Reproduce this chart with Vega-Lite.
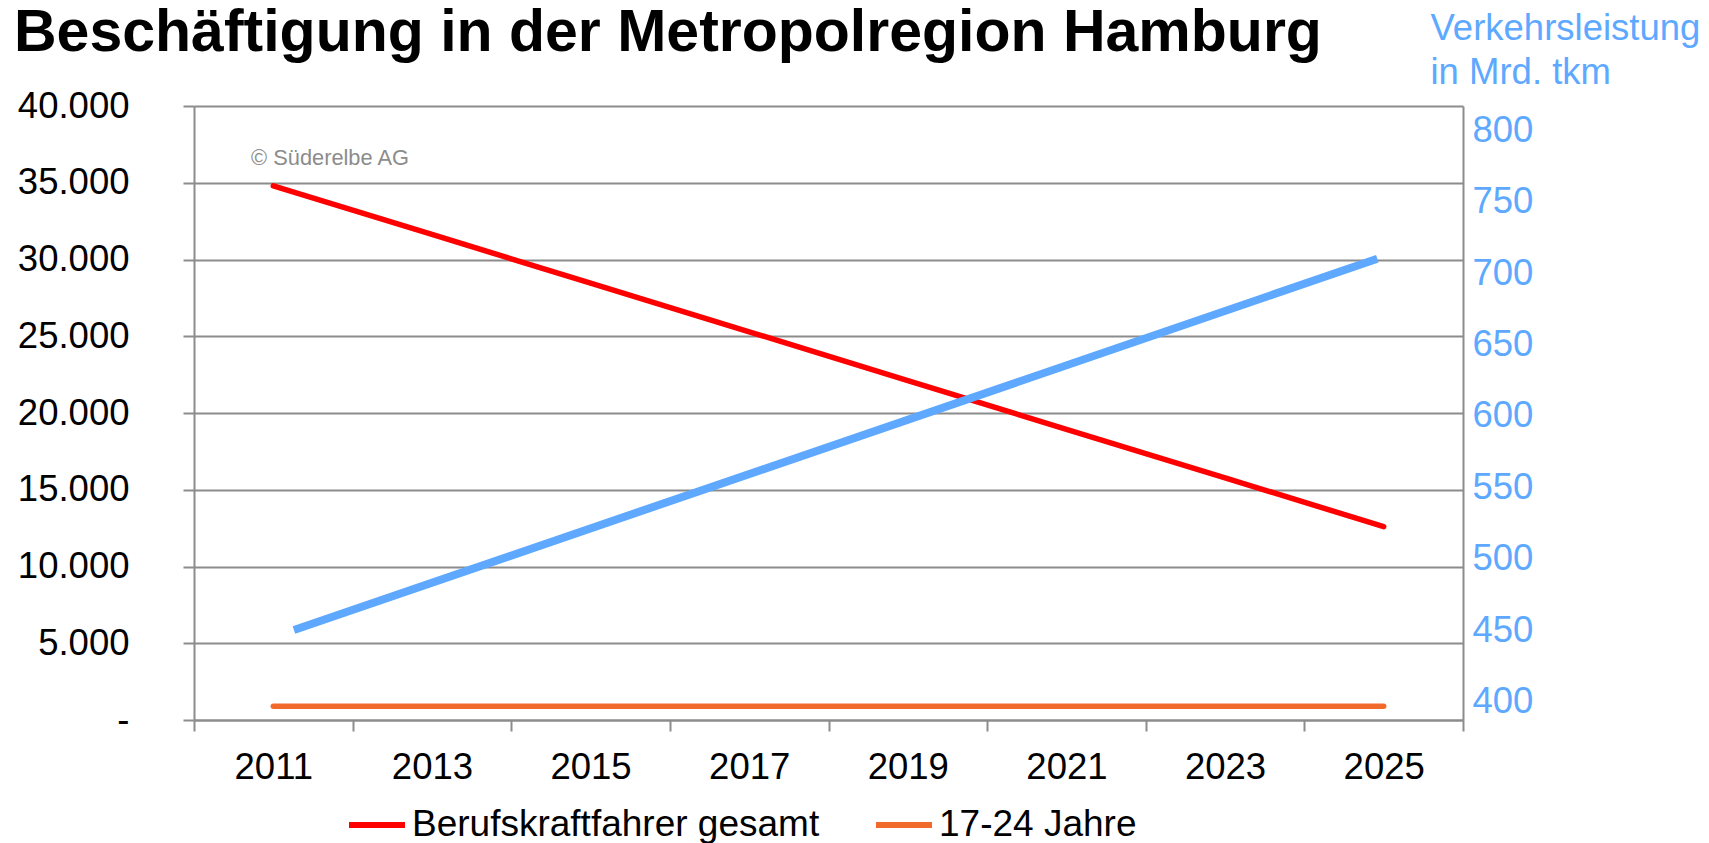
{
  "$schema": "https://vega.github.io/schema/vega-lite/v6.json",
  "width": 1269,
  "height": 614,
  "autosize": {"type": "none"},
  "padding": {"left": 194, "top": 106, "right": 246, "bottom": 123},
  "background": "white",
  "title": {
    "text": "Beschäftigung in der Metropolregion Hamburg",
    "anchor": "start",
    "frame": "group",
    "fontSize": 59,
    "fontWeight": "bold",
    "font": "Liberation Sans",
    "color": "#000000",
    "baseline": "alphabetic",
    "dx": -180,
    "dy": 100,
    "offset": 0
  },
  "datasets": {
    "beschaeftigung": [
      {"Jahr": 2011, "Reihe": "Berufskraftfahrer gesamt", "Anzahl": 34800},
      {"Jahr": 2013, "Reihe": "Berufskraftfahrer gesamt", "Anzahl": 31630},
      {"Jahr": 2015, "Reihe": "Berufskraftfahrer gesamt", "Anzahl": 28460},
      {"Jahr": 2017, "Reihe": "Berufskraftfahrer gesamt", "Anzahl": 25290},
      {"Jahr": 2019, "Reihe": "Berufskraftfahrer gesamt", "Anzahl": 22110},
      {"Jahr": 2021, "Reihe": "Berufskraftfahrer gesamt", "Anzahl": 18940},
      {"Jahr": 2023, "Reihe": "Berufskraftfahrer gesamt", "Anzahl": 15770},
      {"Jahr": 2025, "Reihe": "Berufskraftfahrer gesamt", "Anzahl": 12600},
      {"Jahr": 2011, "Reihe": "17-24 Jahre", "Anzahl": 900},
      {"Jahr": 2013, "Reihe": "17-24 Jahre", "Anzahl": 900},
      {"Jahr": 2015, "Reihe": "17-24 Jahre", "Anzahl": 900},
      {"Jahr": 2017, "Reihe": "17-24 Jahre", "Anzahl": 900},
      {"Jahr": 2019, "Reihe": "17-24 Jahre", "Anzahl": 900},
      {"Jahr": 2021, "Reihe": "17-24 Jahre", "Anzahl": 900},
      {"Jahr": 2023, "Reihe": "17-24 Jahre", "Anzahl": 900},
      {"Jahr": 2025, "Reihe": "17-24 Jahre", "Anzahl": 900}
    ],
    "verkehr": [
      {"Jahr": 2011.26, "Verkehrsleistung": 450},
      {"Jahr": 2024.92, "Verkehrsleistung": 710}
    ],
    "hinweis": [
      {"Text": "© Süderelbe AG"}
    ]
  },
  "config": {
    "font": "Liberation Sans",
    "view": {"stroke": null},
    "axis": {
      "labelFont": "Liberation Sans",
      "labelFontSize": 36.5,
      "labelColor": "#000000",
      "labelFlush": false,
      "labelOverlap": false,
      "domainColor": "#8c8c8c",
      "domainWidth": 2,
      "tickColor": "#8c8c8c",
      "tickWidth": 2,
      "gridColor": "#8c8c8c",
      "gridWidth": 2
    }
  },
  "layer": [
    {
      "layer": [
        {
          "data": {"name": "beschaeftigung"},
          "mark": {"type": "line", "strokeWidth": 5.5, "strokeCap": "round"},
          "encoding": {
            "x": {
              "field": "Jahr",
              "type": "quantitative",
              "scale": {"domain": [2010, 2026], "nice": false, "zero": false},
              "axis": {
                "title": null,
                "values": [2010, 2011, 2012, 2013, 2014, 2015, 2016, 2017, 2018, 2019, 2020, 2021, 2022, 2023, 2024, 2025, 2026],
                "labelExpr": "datum.value % 2 == 1 ? '' + datum.value : ''",
                "tickOpacity": {"condition": {"test": "datum.value % 2 == 1", "value": 0}, "value": 1},
                "tickSize": 11,
                "labelPadding": 18,
                "grid": false
              }
            },
            "y": {
              "field": "Anzahl",
              "type": "quantitative",
              "scale": {"domain": [0, 40000], "nice": false},
              "axis": {
                "title": null,
                "values": [0, 5000, 10000, 15000, 20000, 25000, 30000, 35000, 40000],
                "labelExpr": "datum.value == 0 ? '-\u00a0\u00a0' : replace(format(datum.value, ',d'), ',', '.')",
                "tickSize": 11,
                "labelPadding": 54,
                "grid": true
              }
            },
            "color": {
              "field": "Reihe",
              "type": "nominal",
              "scale": {"domain": ["Berufskraftfahrer gesamt", "17-24 Jahre"], "range": ["#ff0000", "#f26a2b"]},
              "legend": {
                "title": null,
                "orient": "none",
                "direction": "horizontal",
                "legendX": 152,
                "legendY": 688,
                "symbolType": "stroke",
                "symbolSize": 3136,
                "symbolStrokeWidth": 6,
                "labelFontSize": 37,
                "labelColor": "#000000",
                "labelOffset": 4,
                "labelLimit": 0,
                "columnPadding": 44
              }
            }
          }
        },
        {
          "data": {"name": "hinweis"},
          "mark": {"type": "text", "align": "left", "baseline": "alphabetic", "fontSize": 21.8, "color": "#8c8c8c"},
          "encoding": {
            "text": {"field": "Text"},
            "x": {"datum": 2010.72, "type": "quantitative"},
            "y": {"datum": 36156, "type": "quantitative"}
          }
        }
      ]
    },
    {
      "data": {"name": "verkehr"},
      "mark": {"type": "line", "strokeWidth": 8, "strokeCap": "butt", "color": "#5ea9ff"},
      "encoding": {
        "x": {"field": "Jahr", "type": "quantitative"},
        "y": {
          "field": "Verkehrsleistung",
          "type": "quantitative",
          "scale": {"domain": [387, 817], "nice": false, "zero": false},
          "axis": {
            "orient": "right",
            "values": [400, 450, 500, 550, 600, 650, 700, 750, 800],
            "ticks": false,
            "tickSize": 0,
            "labelPadding": 9,
            "labelColor": "#5ea9ff",
            "grid": false,
            "title": ["Verkehrsleistung", "in Mrd. tkm"],
            "titleColor": "#5ea9ff",
            "titleFont": "Liberation Sans",
            "titleFontSize": 36.5,
            "titleFontWeight": "normal",
            "titleAngle": 0,
            "titleAlign": "left",
            "titleBaseline": "alphabetic",
            "titleX": -33,
            "titleY": -67,
            "titleLineHeight": 44
          }
        }
      }
    }
  ],
  "resolve": {"scale": {"y": "independent"}}
}
